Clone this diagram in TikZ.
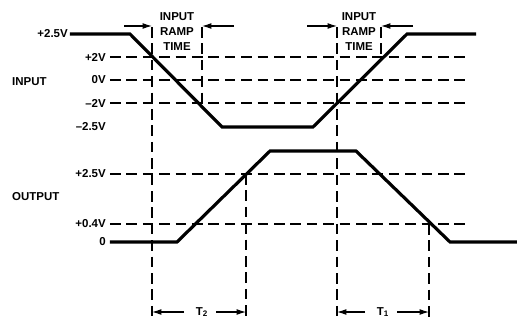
\documentclass[tikz,border=0pt]{standalone}
\usepackage{fontspec}
\setmainfont{Liberation Sans}
\usetikzlibrary{arrows.meta}

\begin{document}
\begin{tikzpicture}[x=0.03cm,y=-0.03cm,
    wave/.style={line width=2.7pt},
    guide/.style={line width=0.9pt,dash pattern=on 9pt off 5pt},
    lbl/.style={anchor=east,inner sep=0pt,font=\fontsize{9.8}{11}\selectfont\bfseries},
    ramp/.style={inner sep=0pt,align=center,font=\fontsize{9.8}{12.8}\selectfont\bfseries},
    dim/.style={line width=0.9pt,-{Latex[length=8pt,width=5pt]}}]
    \useasboundingbox (0,0) rectangle (517,320);

    \draw
    (68,34)node[lbl](vinhi){+2.5V}
    (106,57)node[lbl](vtwo){+2V}
    (106,80)node[lbl](vzero){0V}
    (106,103)node[lbl](vmtwo){--2V}
    (106,127)node[lbl](vinlo){--2.5V}
    (106,174)node[lbl](vouthi){+2.5V}
    (106,224)node[lbl](vpoint){+0.4V}
    (106,242)node[lbl](voutlo){0}
    (12,82)node[lbl,anchor=west](inp){INPUT}
    (12,197)node[lbl,anchor=west](outp){OUTPUT}
    (177,32)node[ramp](rampL){INPUT\\RAMP\\TIME}
    (359,32)node[ramp](rampR){INPUT\\RAMP\\TIME}
    (202,312)node[lbl,anchor=center](ttwo){T\textsubscript{2}}
    (383,312)node[lbl,anchor=center](tone){T\textsubscript{1}}

    (130,34)coordinate(in1)
    (222,127)coordinate(in2)
    (313,127)coordinate(in3)
    (407,34)coordinate(in4)
    (476,34)coordinate(in5)

    (177,242)coordinate(out1)
    (270,151)coordinate(out2)
    (356,151)coordinate(out3)
    (450,242)coordinate(out4)
    (517,242)coordinate(out5)

    (466,0)coordinate(gend)
    (0,27)coordinate(ytop)
    (0,317)coordinate(ybot)
    (0,26)coordinate(yarr)
    (152,0)coordinate(c1)
    (202,0)coordinate(c2)
    (246,0)coordinate(c3)
    (337,0)coordinate(c4)
    (381,0)coordinate(c5)
    (429,0)coordinate(c6)

    (124,26)coordinate(a1)
    (234,26)coordinate(a2)
    (307,26)coordinate(a3)
    (413,26)coordinate(a4)
    ;

    % levels
    \draw[guide]([xshift=3.4pt]vtwo.east)--(vtwo-|gend);
    \draw[guide]([xshift=3.4pt]vzero.east)--(vzero-|gend);
    \draw[guide]([xshift=3.4pt]vmtwo.east)--(vmtwo-|gend);
    \draw[guide]([xshift=3.4pt]vouthi.east)--(vouthi-|gend);
    \draw[guide]([xshift=3.4pt]vpoint.east)--(vpoint-|gend);

    % markers
    \draw[guide](c1|-ytop)--(c1|-ybot);
    \draw[guide](c2|-ytop)--(c2|-vmtwo);
    \draw[guide](c3|-vouthi)--(c3|-ybot);
    \draw[guide](c4|-ytop)--(c4|-ybot);
    \draw[guide](c5|-ytop)--(c5|-vtwo);
    \draw[guide](c6|-vpoint)--(c6|-ybot);

    % waveforms
    \draw[wave]([xshift=1.7pt]vinhi.east)--(in1)--(in2)--(in3)--(in4)--(in5);
    \draw[wave]([xshift=3.4pt]voutlo.east)--(out1)--(out2)--(out3)--(out4)--(out5);

    \draw[dim](a1)--(c1|-yarr);
    \draw[dim](a2)--(c2|-yarr);
    \draw[dim](a3)--(c4|-yarr);
    \draw[dim](a4)--(c5|-yarr);

    \draw[dim]([xshift=-10pt]ttwo.west)--(c1|-ttwo);
    \draw[dim]([xshift=7pt]ttwo.east)--(c3|-ttwo);
    \draw[dim]([xshift=-10pt]tone.west)--(c4|-tone);
    \draw[dim]([xshift=7pt]tone.east)--(c6|-tone);

\end{tikzpicture}
\end{document}
